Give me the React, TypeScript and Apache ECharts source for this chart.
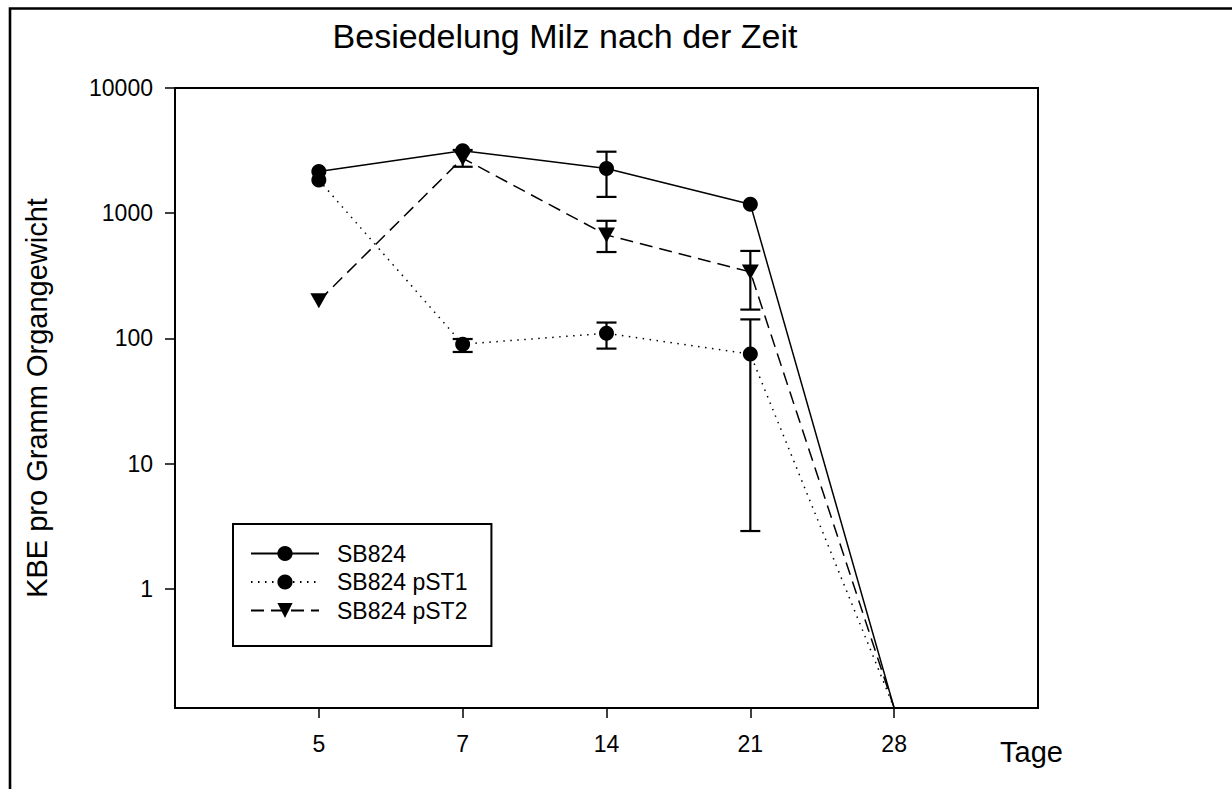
import React, { useEffect, useRef } from 'react';
import * as echarts from 'echarts';

const TITLE = 'Besiedelung Milz nach der Zeit';
const Y_NAME = 'KBE pro Gramm Organgewicht';
const X_NAME = 'Tage';
const DAYS = ['5', '7', '14', '21', '28'];
const X_CATEGORIES = ['', ...DAYS, ''];
const SERIES_NAMES = ['SB824', 'SB824 pST1', 'SB824 pST2'];
const SB824 = [2150, 3150, 2280, 1180, 0];
const SB824_PST1 = [1840, 90, 110, 75, 0];
const SB824_PST2 = [200, 2750, 670, 340, 0];
// error bars: [day, low, high]
const SB824_ERR: [string, number, number][] = [['14', 1350, 3100]];
const SB824_PST1_ERR: [string, number, number][] = [['7', 78, 99], ['14', 83, 134], ['21', 2.9, 142]];
const SB824_PST2_ERR: [string, number, number][] = [['7', 2350, 3200], ['14', 490, 870], ['21', 170, 500]];
const Y_TICKS = [1, 10, 100, 1000, 10000];
const Y_MIN = 0.112;
const Y_MAX = 10000;

const FONT = 'Liberation Sans, Arial, Helvetica, sans-serif';

function lineData(values: number[]) {
  return values.map((v, i) =>
    v > 0 ? { value: [DAYS[i], v] } : { value: [DAYS[i], Y_MIN], symbol: 'none' }
  );
}

function errorSeries(data: [string, number, number][]) {
  return {
    type: 'custom',
    data,
    encode: { x: 0, y: [1, 2] },
    z: 3,
    silent: true,
    renderItem: (params: any, api: any) => {
      const x = api.value(0);
      const lo = api.coord([x, api.value(1)]);
      const hi = api.coord([x, api.value(2)]);
      const hw = 10;
      const style = { stroke: '#000', lineWidth: 2.2 };
      return {
        type: 'group',
        children: [
          { type: 'line', shape: { x1: lo[0], y1: lo[1], x2: hi[0], y2: hi[1] }, style },
          { type: 'line', shape: { x1: lo[0] - hw, y1: lo[1], x2: lo[0] + hw, y2: lo[1] }, style },
          { type: 'line', shape: { x1: hi[0] - hw, y1: hi[1], x2: hi[0] + hw, y2: hi[1] }, style },
        ],
      };
    },
  };
}

function isDecade(v: number) {
  const l = Math.log10(v);
  return v >= 1 && Math.abs(l - Math.round(l)) < 1e-6;
}

export default function App() {
  const ref = useRef<HTMLDivElement>(null);
  useEffect(() => {
    if (!ref.current) return;
    const chart = echarts.init(ref.current, null, { renderer: 'svg' });
    chart.setOption({
      animation: false,
      backgroundColor: '#fff',
      textStyle: { fontFamily: FONT, color: '#000' },
      grid: {
        left: 175,
        top: 88,
        right: 194,
        bottom: 81,
        show: true,
        borderColor: '#000',
        borderWidth: 2,
        containLabel: false,
        outerBoundsMode: 'none',
      },
      legend: {
        data: SERIES_NAMES,
        orient: 'vertical',
        left: 233,
        top: 524,
        padding: [18, 24, 24, 17],
        itemWidth: 68,
        itemHeight: 19,
        itemGap: 5.5,
        borderColor: '#000',
        borderWidth: 2,
        backgroundColor: '#fff',
        selectedMode: false,
        textStyle: { fontFamily: FONT, fontSize: 23, color: '#000', padding: [0, 0, 0, 13] },
      },
      xAxis: {
        type: 'category',
        data: X_CATEGORIES,
        boundaryGap: false,
        axisLine: { show: true, lineStyle: { color: '#000', width: 2 } },
        axisTick: {
          show: true,
          length: 10,
          inside: false,
          interval: (index: number, value: string) => value !== '',
          lineStyle: { color: '#000', width: 1.5 },
        },
        axisLabel: { interval: 0, margin: 24, fontSize: 23, color: '#000', fontFamily: FONT },
        splitLine: { show: false },
      },
      yAxis: {
        type: 'log',
        logBase: 10,
        min: Y_MIN,
        max: Y_MAX,
        name: Y_NAME,
        nameLocation: 'middle',
        nameGap: 124,
        nameTextStyle: { fontSize: 29, color: '#000', fontFamily: FONT },
        axisLine: { show: true, lineStyle: { color: '#000', width: 2 } },
        axisTick: {
          show: true,
          length: 10,
          inside: false,
          customValues: Y_TICKS,
          lineStyle: { color: '#000', width: 1.5 },
        },
        axisLabel: {
          margin: 22,
          fontSize: 23,
          color: '#000',
          fontFamily: FONT,
          customValues: Y_TICKS,
          formatter: (v: number) => (isDecade(v) ? String(Math.round(v)) : ''),
        },
        splitLine: { show: false },
        minorTick: { show: false },
      },
      graphic: [
        {
          type: 'rect',
          shape: { x: 10, y: 8.5, width: 1400, height: 1000 },
          style: { fill: 'none', stroke: '#000', lineWidth: 2.6 },
          silent: true,
        },
        {
          type: 'text',
          x: 565,
          y: 36,
          style: {
            text: TITLE,
            fontSize: 34,
            fontFamily: FONT,
            fill: '#000',
            textAlign: 'center',
            textVerticalAlign: 'middle',
          },
        },
        {
          type: 'text',
          x: 1000,
          y: 752,
          style: {
            text: X_NAME,
            fontSize: 29,
            fontFamily: FONT,
            fill: '#000',
            textAlign: 'left',
            textVerticalAlign: 'middle',
          },
        },
      ],
      series: [
        errorSeries(SB824_ERR),
        errorSeries(SB824_PST1_ERR),
        errorSeries(SB824_PST2_ERR),
        {
          name: SERIES_NAMES[0],
          type: 'line',
          data: lineData(SB824),
          symbol: 'circle',
          symbolSize: 15,
          itemStyle: { color: '#000' },
          lineStyle: { color: '#000', width: 1.5, type: 'solid' },
          z: 4,
        },
        {
          name: SERIES_NAMES[1],
          type: 'line',
          data: lineData(SB824_PST1),
          symbol: 'circle',
          symbolSize: 15,
          itemStyle: { color: '#000' },
          lineStyle: { color: '#000', width: 1.5, type: [1.5, 5.5] },
          z: 4,
        },
        {
          name: SERIES_NAMES[2],
          type: 'line',
          data: lineData(SB824_PST2),
          symbol: 'triangle',
          symbolRotate: 180,
          symbolSize: [17, 15],
          itemStyle: { color: '#000' },
          lineStyle: { color: '#000', width: 1.5, type: [13, 7] },
          z: 4,
        },
      ],
    });
    return () => chart.dispose();
  }, []);
  return (
    <div
      ref={ref}
      style={{ position: 'fixed', left: 0, top: 0, width: 1232, height: 789, background: '#fff' }}
    />
  );
}
